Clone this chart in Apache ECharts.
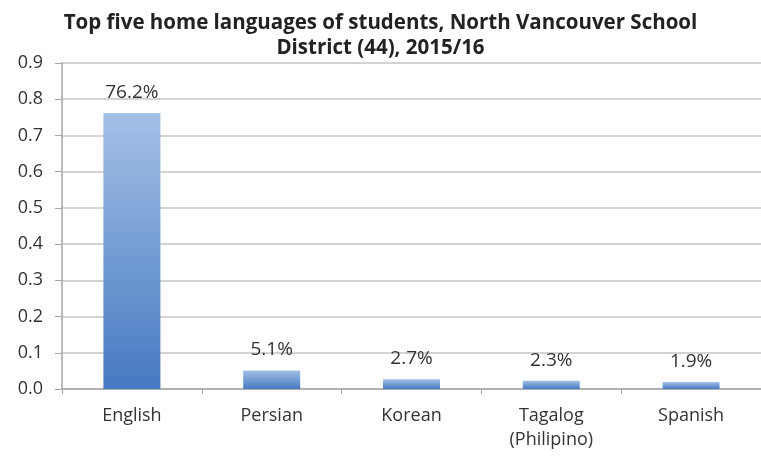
<!DOCTYPE html>
<html>
<head>
<meta charset="utf-8">
<script src="https://cdn.jsdelivr.net/npm/echarts@6/dist/echarts.min.js"></script>
<style>
  html, body { margin: 0; padding: 0; background: #fff; }
  #chart { width: 761px; height: 458px; }
</style>
</head>
<body>
<div id="chart"></div>
<script>
// Top home languages of students (share of total enrolment)
const languages = ['English', 'Persian', 'Korean', 'Tagalog\n(Philipino)', 'Spanish'];
const shares = [0.762, 0.051, 0.027, 0.023, 0.019];
const yTicks = { min: 0, max: 0.9, interval: 0.1 };

const FONT = '"Open Sans", "Liberation Sans", sans-serif';
const TEXT = '#333333';

const chart = echarts.init(document.getElementById('chart'), null, { renderer: 'canvas' });

chart.setOption({
  animation: false,
  backgroundColor: '#ffffff',
  title: {
    text: 'Top five home languages of students, North Vancouver School\nDistrict (44), 2015/16',
    left: 'center',
    top: 6,
    textStyle: {
      fontFamily: FONT,
      fontWeight: 'bold',
      fontSize: 20.5,
      lineHeight: 25,
      color: '#222222'
    }
  },
  grid: {
    left: 62,
    top: 63,
    width: 704,
    height: 326,
    containLabel: false
  },
  xAxis: {
    type: 'category',
    data: languages,
    axisLine: { lineStyle: { color: '#a6a6a6', width: 1.5 } },
    axisTick: { show: true, length: 5, lineStyle: { color: '#a6a6a6' } },
    axisLabel: {
      fontFamily: FONT,
      fontSize: 18,
      color: TEXT,
      margin: 15,
      lineHeight: 24
    },
    splitLine: { show: false }
  },
  yAxis: {
    type: 'value',
    min: yTicks.min,
    max: yTicks.max,
    interval: yTicks.interval,
    axisLine: { show: true, lineStyle: { color: '#a6a6a6', width: 1.5 } },
    axisTick: { show: true, length: 7, lineStyle: { color: '#a6a6a6' } },
    axisLabel: {
      fontFamily: FONT,
      fontSize: 18,
      color: TEXT,
      margin: 19,
      formatter: v => v.toFixed(1)
    },
    splitLine: { show: true, lineStyle: { color: '#c4c4c4', width: 1.5 } }
  },
  series: [{
    type: 'bar',
    data: shares,
    barWidth: 57,
    itemStyle: {
      color: new echarts.graphic.LinearGradient(0, 0, 0, 1, [
        { offset: 0, color: '#a3c0e6' },
        { offset: 1, color: '#4679c1' }
      ])
    },
    label: {
      show: true,
      position: 'top',
      distance: 11,
      fontFamily: FONT,
      fontSize: 19,
      color: TEXT,
      formatter: p => (p.value * 100).toFixed(1) + '%'
    }
  }]
});
</script>
</body>
</html>
